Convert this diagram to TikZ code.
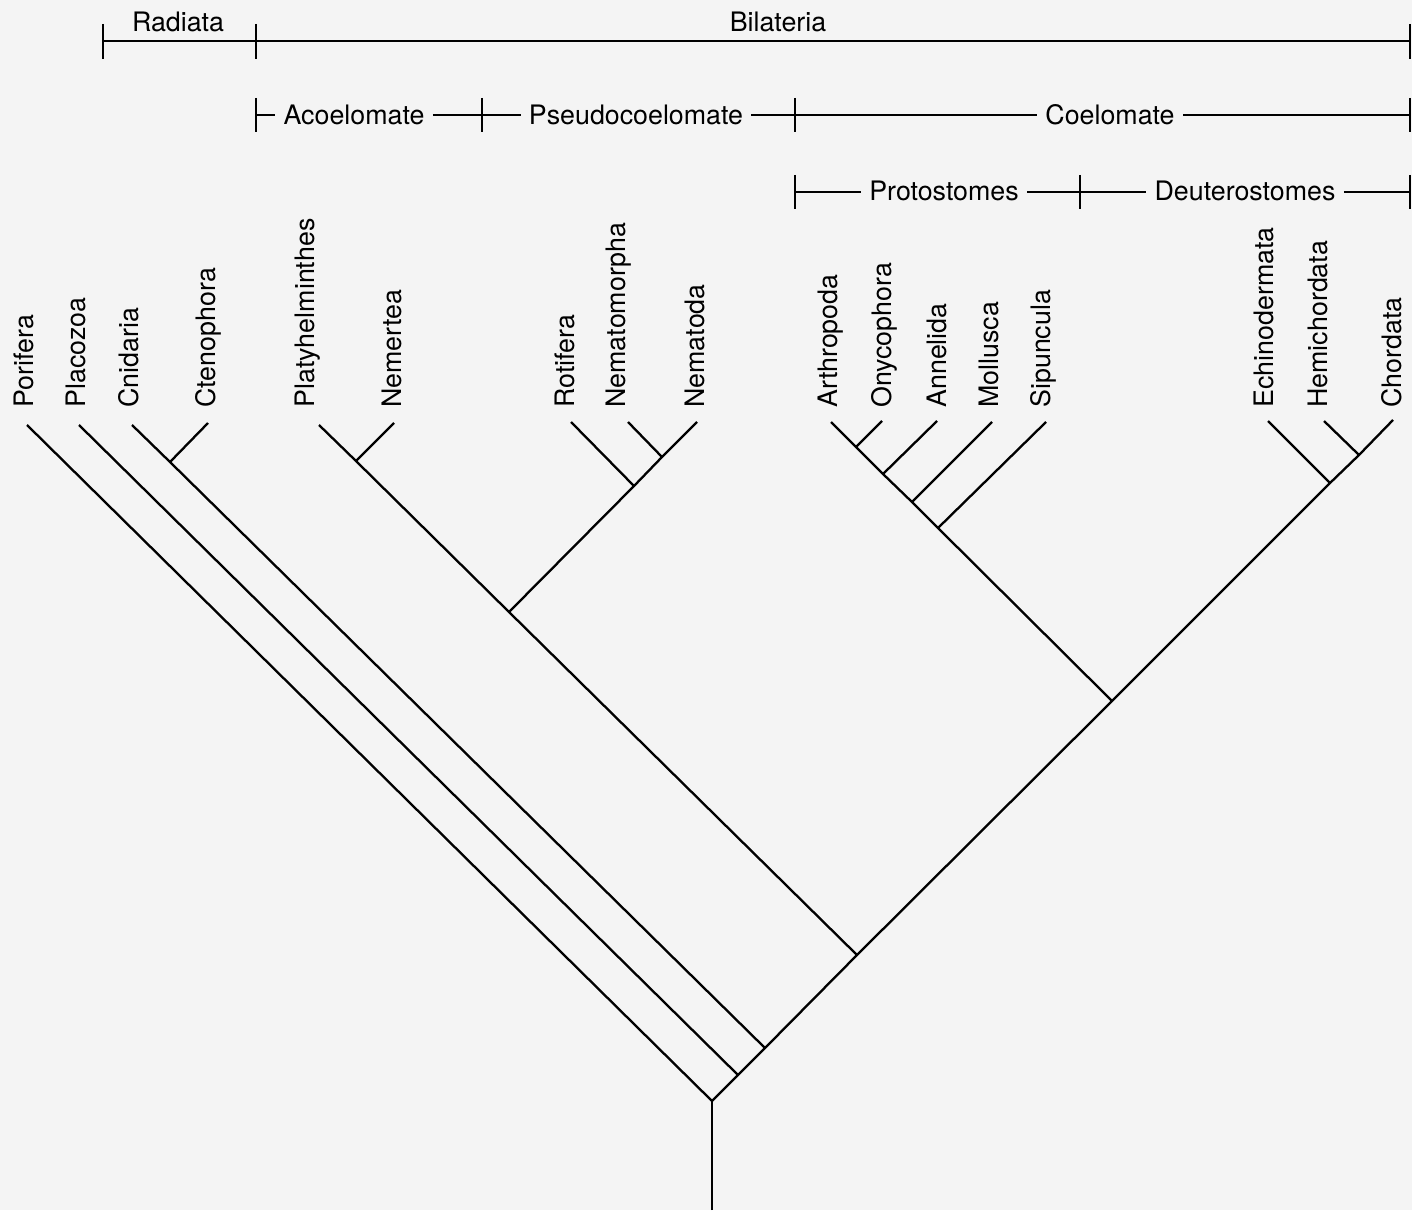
\documentclass[tikz,border=0pt]{standalone}
\usepackage{fontspec}
\setmainfont{TeX Gyre Heros}
\usepackage{tikz}
\definecolor{paper}{gray}{0.955}

\begin{document}
\begin{tikzpicture}[
    x=0.5pt, y=-0.5pt,
    font=\fontsize{13.4}{16}\selectfont,
    taxon/.style={rotate=90, anchor=mid west, inner sep=0pt},
    group/.style={anchor=base, inner sep=4pt},
    branch/.style={line width=1.15pt},
    bar/.style={line width=1.2pt}
]
\fill[paper] (0,0) rectangle (1412,1210);

% Group bars
\coordinate (b1a) at (103,41);
\coordinate (b1b) at (256,41);
\coordinate (b1c) at (1410,41);
\node[group] (radiata) at (178,32) {Radiata};
\node[group] (bilateria) at (778,32) {Bilateria};
\draw[bar] (b1a) -- (b1c);
\draw[bar] (b1a) ++(0,-17) -- ++(0,35);
\draw[bar] (b1b) ++(0,-17) -- ++(0,35);
\draw[bar] (b1c) ++(0,-17) -- ++(0,35);

\coordinate (b2a) at (256,115);
\coordinate (b2b) at (482,115);
\coordinate (b2c) at (795,115);
\coordinate (b2d) at (1410,115);
\node[group] (acoelomate) at (354,124.5) {Acoelomate};
\node[group] (pseudocoelomate) at (636,124.5) {Pseudocoelomate};
\node[group] (coelomate) at (1110,124.5) {Coelomate};
\draw[bar] (b2a) -- (acoelomate.west |- b2a);
\draw[bar] (acoelomate.east |- b2a) -- (b2b) -- (pseudocoelomate.west |- b2b);
\draw[bar] (pseudocoelomate.east |- b2b) -- (b2c) -- (coelomate.west |- b2c);
\draw[bar] (coelomate.east |- b2c) -- (b2d);
\draw[bar] (b2a) ++(0,-17) -- ++(0,34);
\draw[bar] (b2b) ++(0,-17) -- ++(0,34);
\draw[bar] (b2c) ++(0,-17) -- ++(0,34);
\draw[bar] (b2d) ++(0,-17) -- ++(0,34);

\coordinate (b3a) at (795,192);
\coordinate (b3b) at (1080,192);
\coordinate (b3c) at (1410,192);
\node[group] (protostomes) at (944,200.5) {Protostomes};
\node[group] (deuterostomes) at (1245,200.5) {Deuterostomes};
\draw[bar] (b3a) -- (protostomes.west |- b3a);
\draw[bar] (protostomes.east |- b3a) -- (b3b) -- (deuterostomes.west |- b3b);
\draw[bar] (deuterostomes.east |- b3b) -- (b3c);
\draw[bar] (b3a) ++(0,-17) -- ++(0,34);
\draw[bar] (b3b) ++(0,-17) -- ++(0,34);
\draw[bar] (b3c) ++(0,-17) -- ++(0,34);

% Taxa
\node[taxon] (porifera) at (28,408) {Porifera};
\node[taxon] (placozoa) at (80,408) {Placozoa};
\node[taxon] (cnidaria) at (133,408) {Cnidaria};
\node[taxon] (ctenophora) at (210,408) {Ctenophora};
\node[taxon] (platyhelminthes) at (309,408) {Platyhelminthes};
\node[taxon] (nemertea) at (396,408) {Nemertea};
\node[taxon] (rotifera) at (569,408) {Rotifera};
\node[taxon] (nematomorpha) at (620,408) {Nematomorpha};
\node[taxon] (nematoda) at (699,408) {Nematoda};
\node[taxon] (arthropoda) at (832,408) {Arthropoda};
\node[taxon] (onycophora) at (886,408) {Onycophora};
\node[taxon] (annelida) at (941,408) {Annelida};
\node[taxon] (mollusca) at (993,408) {Mollusca};
\node[taxon] (sipuncula) at (1045,408) {Sipuncula};
\node[taxon] (echinodermata) at (1268,408) {Echinodermata};
\node[taxon] (hemichordata) at (1322,408) {Hemichordata};
\node[taxon] (chordata) at (1396,408) {Chordata};

% Branch tips
\coordinate (porifera-tip) at (27,425);
\coordinate (placozoa-tip) at (79,425);
\coordinate (cnidaria-tip) at (132,425);
\coordinate (ctenophora-tip) at (208,423);
\coordinate (platyhelminthes-tip) at (319,425);
\coordinate (nemertea-tip) at (394,423);
\coordinate (rotifera-tip) at (571,422);
\coordinate (nematomorpha-tip) at (628,422);
\coordinate (nematoda-tip) at (697,422);
\coordinate (arthropoda-tip) at (831,422);
\coordinate (onycophora-tip) at (882,421);
\coordinate (annelida-tip) at (937,421);
\coordinate (mollusca-tip) at (992,422);
\coordinate (sipuncula-tip) at (1046,422);
\coordinate (echinodermata-tip) at (1268,421);
\coordinate (hemichordata-tip) at (1324,421);
\coordinate (chordata-tip) at (1393,420);

% Branch points
\coordinate (root) at (712,1101);
\coordinate (base) at (712,1210);
\coordinate (j-placozoa) at (738,1075);
\coordinate (j-eumetazoa) at (765,1048);
\coordinate (j-radiata) at (170,462);
\coordinate (j-bilateria) at (857,955);
\coordinate (j-acoel) at (356,461);
\coordinate (j-lower) at (509,612);
\coordinate (j-pseudo) at (634,486);
\coordinate (j-nemat) at (662,457);
\coordinate (j-coelom) at (1112,701);
\coordinate (j-proto4) at (938,528);
\coordinate (j-proto3) at (912,502);
\coordinate (j-proto2) at (883,474);
\coordinate (j-proto1) at (856,447);
\coordinate (j-deutero) at (1330,483);
\coordinate (j-chord) at (1359,455);

% Tree
\draw[branch] (base) -- (root);
\draw[branch] (porifera-tip) -- (root) -- (j-placozoa) -- (j-eumetazoa) -- (j-bilateria) -- (j-coelom) -- (j-deutero) -- (j-chord) -- (chordata-tip);
\draw[branch] (placozoa-tip) -- (j-placozoa);
\draw[branch] (cnidaria-tip) -- (j-radiata) -- (j-eumetazoa);
\draw[branch] (ctenophora-tip) -- (j-radiata);
\draw[branch] (platyhelminthes-tip) -- (j-acoel) -- (j-lower) -- (j-bilateria);
\draw[branch] (nemertea-tip) -- (j-acoel);
\draw[branch] (nematoda-tip) -- (j-nemat) -- (j-pseudo) -- (j-lower);
\draw[branch] (nematomorpha-tip) -- (j-nemat);
\draw[branch] (rotifera-tip) -- (j-pseudo);
\draw[branch] (arthropoda-tip) -- (j-proto1) -- (j-proto2) -- (j-proto3) -- (j-proto4) -- (j-coelom);
\draw[branch] (onycophora-tip) -- (j-proto1);
\draw[branch] (annelida-tip) -- (j-proto2);
\draw[branch] (mollusca-tip) -- (j-proto3);
\draw[branch] (sipuncula-tip) -- (j-proto4);
\draw[branch] (echinodermata-tip) -- (j-deutero);
\draw[branch] (hemichordata-tip) -- (j-chord);

\end{tikzpicture}
\end{document}
